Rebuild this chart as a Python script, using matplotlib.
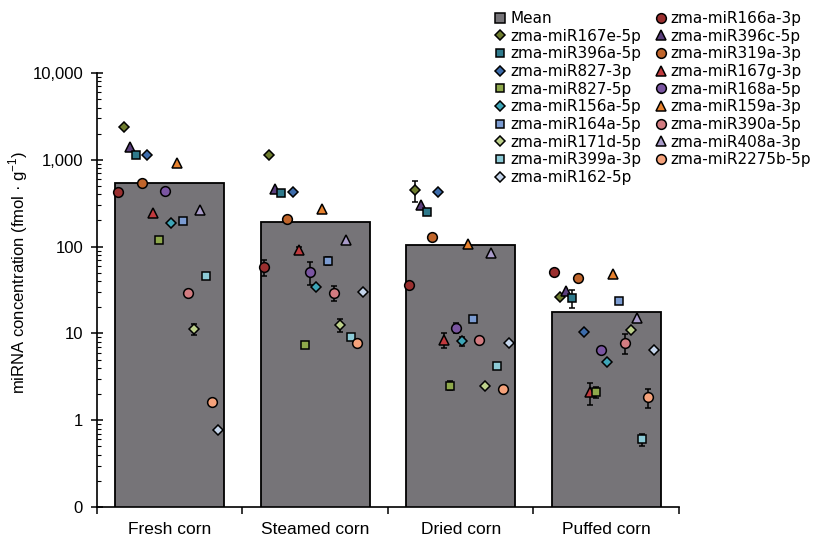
import numpy as np
import matplotlib
matplotlib.use("Agg")
import matplotlib.pyplot as plt
from matplotlib.ticker import LogLocator, NullFormatter
from matplotlib.lines import Line2D

plt.rcParams['font.family'] = ['Liberation Sans', 'DejaVu Sans']
plt.rcParams['mathtext.fontset'] = 'custom'
plt.rcParams['mathtext.rm'] = 'Liberation Sans'

# data (fmol/g)
categories = ['Fresh corn', 'Steamed corn', 'Dried corn', 'Puffed corn']
mean_conc = [535, 192, 103, 17.7]

mirnas = ['zma-miR166a-3p', 'zma-miR167e-5p', 'zma-miR396c-5p', 'zma-miR396a-5p',
          'zma-miR319a-3p', 'zma-miR827-3p', 'zma-miR167g-3p', 'zma-miR827-5p',
          'zma-miR168a-5p', 'zma-miR156a-5p', 'zma-miR159a-3p', 'zma-miR164a-5p',
          'zma-miR390a-5p', 'zma-miR171d-5p', 'zma-miR408a-3p', 'zma-miR399a-3p',
          'zma-miR2275b-5p', 'zma-miR162-5p']

fresh = [430, 2380, 1420, 1150, 546, 1150, 242, 118, 437, 187, 929, 196, 29.4, 11.2, 264, 45.4, 1.6, 0.77]
steamed = [58, 1140, 458, 412, 207, 430, 91, 7.3, 51, 34.5, 270, 69, 29.4, 12.5, 119, 9.0, 7.7, 30.2]
dried = [36, 450, 302, 253, 130, 422, 8.5, 2.5, 11.6, 8.15, 107, 14.6, 8.4, 2.46, 85, 4.2, 2.28, 7.8]
puffed = [51, 26.4, 31, 25.7, 43.7, 10.4, 2.1, 2.1, 6.4, 4.7, 48, 23.8, 7.8, 10.9, 14.9, 0.6, 1.83, 6.4]

fresh_err = [0, 0, 0, 0, 0, 0, 0, 0, 0, 0, 0, 0, 0, 1.5, 0, 0, 0, 0]
steamed_err = [12, 0, 0, 0, 0, 0, 8, 0, 15, 0, 0, 7, 6, 2, 0, 0, 0, 0]
dried_err = [0, 120, 0, 0, 0, 0, 1.7, 0.3, 1.5, 1.0, 0, 0, 0, 0, 0, 0, 0, 0]
puffed_err = [0, 0, 0, 6, 0, 0, 0.6, 0.3, 0, 0, 0, 0, 2, 0, 0, 0.1, 0.45, 0]

ytick_vals = [0.1, 1, 10, 100, 1000, 10000]
ytick_labels = ['0', '1', '10', '100', '1,000', '10,000']

markers = ['o', 'D', '^', 's'] * 4 + ['o', 'D']
colors = ['#9a2f2f', '#6e7c2e', '#5b3f7c', '#2f7a8c', '#c0652b', '#3d6cab',
          '#c13a3e', '#8ea84b', '#7a55a1', '#3ea5b7', '#e8822e', '#7b9bd1',
          '#d27b80', '#bdd08b', '#a99bc9', '#8ccad6', '#f5a27b', '#c4d4ea']
msizes = {'o': 7, 'D': 4.6, '^': 7, 's': 6.4}

conc = np.array([fresh, steamed, dried, puffed])
errs = np.array([fresh_err, steamed_err, dried_err, puffed_err])
x = np.arange(len(categories))
offsets = np.linspace(-0.355, 0.33, len(mirnas))

fig = plt.figure(figsize=(8.13, 5.37), dpi=100)
ax = fig.add_axes([0.1193, 0.0559, 0.7157, 0.8082])

ax.bar(x, mean_conc, width=0.75, color='#767478', edgecolor='black', linewidth=1.3, zorder=1)

handles = {}
for j, name in enumerate(mirnas):
    xs = x + offsets[j]
    ys = conc[:, j]
    e = errs[:, j]
    has = e > 0
    if has.any():
        ax.errorbar(xs[has], ys[has], yerr=e[has], fmt='none', ecolor='black',
                    elinewidth=1.1, capsize=2.5, capthick=1.1, zorder=3)
    m = markers[j]
    h, = ax.plot(xs, ys, ls='none', marker=m, ms=msizes[m], mfc=colors[j],
                 mec='black', mew=1.1, zorder=4, label=name)
    handles[name] = h

ax.set_yscale('log')
ax.set_ylim(0.1, 10000)
ax.set_xlim(-0.5, 3.5)
ax.set_yticks(ytick_vals, labels=ytick_labels)
ax.yaxis.set_minor_locator(LogLocator(base=10, subs=np.arange(2, 10)))
ax.yaxis.set_minor_formatter(NullFormatter())
ax.tick_params(axis='y', which='major', direction='inout', length=8, width=1.1,
               labelsize=12, pad=6)
ax.tick_params(axis='y', which='minor', direction='in', length=3, width=0.8)

ax.set_xticks(np.arange(-0.5, 4, 1.0), labels=[''] * 5)
ax.set_xticks(x, labels=categories, minor=True)
ax.tick_params(axis='x', which='major', direction='out', length=5, width=1.1)
ax.tick_params(axis='x', which='minor', length=0, labelsize=12.5, pad=11)

for s in ['top', 'right']:
    ax.spines[s].set_visible(False)
for s in ['left', 'bottom']:
    ax.spines[s].set_linewidth(1.2)

ax.set_ylabel('miRNA concentration (fmol · g$^{\\mathregular{-1}}$)', fontsize=12)
ax.yaxis.set_label_coords(-0.115, 0.54)

mean_handle = Line2D([], [], ls='none', marker='s', ms=7, mfc='#767478',
                     mec='black', mew=1.1)
left_col = ['zma-miR167e-5p', 'zma-miR396a-5p', 'zma-miR827-3p', 'zma-miR827-5p',
            'zma-miR156a-5p', 'zma-miR164a-5p', 'zma-miR171d-5p', 'zma-miR399a-3p',
            'zma-miR162-5p']
right_col = ['zma-miR166a-3p', 'zma-miR396c-5p', 'zma-miR319a-3p', 'zma-miR167g-3p',
             'zma-miR168a-5p', 'zma-miR159a-3p', 'zma-miR390a-5p', 'zma-miR408a-3p',
             'zma-miR2275b-5p']
leg_handles = [mean_handle] + [handles[n] for n in left_col] + [handles[n] for n in right_col]
leg_labels = ['Mean'] + left_col + right_col
fig.legend(leg_handles, leg_labels, ncol=2, loc='upper left',
           bbox_to_anchor=(495 / 813, 1 - 11 / 537), frameon=False,
           prop={'family': 'DejaVu Sans', 'size': 11},
           handlelength=0.7, handletextpad=0.3, borderpad=0, borderaxespad=0,
           labelspacing=0.175, columnspacing=0.9)

fig.savefig('out.png', dpi=100)
